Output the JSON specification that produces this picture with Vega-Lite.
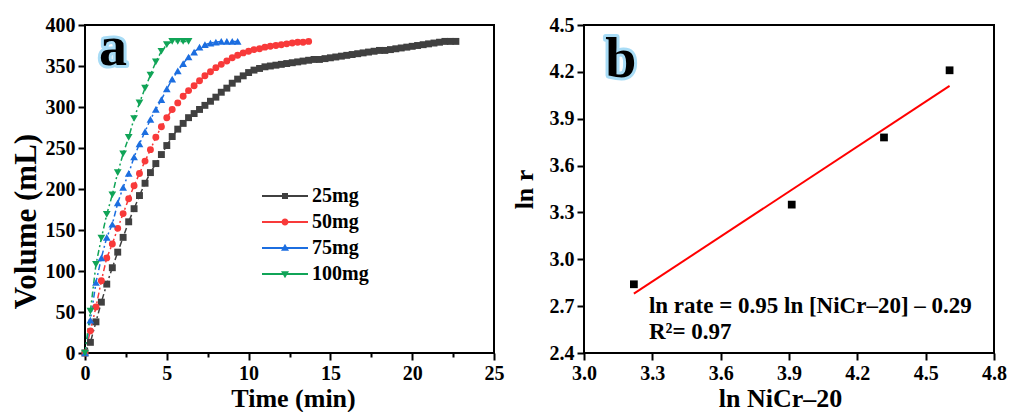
{
  "$schema": "https://vega.github.io/schema/vega-lite/v6.json",
  "background": "white",
  "padding": {"left": 9, "top": 14, "right": 2, "bottom": 4},
  "spacing": 5,
  "config": {
    "font": "Liberation Serif",
    "view": {"stroke": "black", "strokeWidth": 2},
    "axis": {
      "labelFont": "Liberation Serif", "labelFontWeight": "bold", "labelFontSize": 20, "labelColor": "black",
      "titleFont": "Liberation Serif", "titleFontWeight": "bold", "titleFontSize": 26, "titleColor": "black",
      "domain": false, "grid": false, "tickColor": "black", "tickWidth": 2, "labelPadding": 3, "labelOverlap": false, "labelFlush": false
    }
  },
  "datasets": {
    "a": [
      {"t":0,"v":0,"s":"25mg"},{"t":0.33,"v":13,"s":"25mg"},{"t":0.67,"v":38,"s":"25mg"},{"t":1.0,"v":62,"s":"25mg"},{"t":1.33,"v":84,"s":"25mg"},{"t":1.67,"v":104,"s":"25mg"},{"t":2.0,"v":123,"s":"25mg"},{"t":2.33,"v":141,"s":"25mg"},{"t":2.67,"v":160,"s":"25mg"},{"t":3.0,"v":176,"s":"25mg"},{"t":3.33,"v":192,"s":"25mg"},{"t":3.67,"v":207,"s":"25mg"},{"t":4.0,"v":220,"s":"25mg"},{"t":4.33,"v":231,"s":"25mg"},{"t":4.67,"v":242,"s":"25mg"},{"t":5.0,"v":253,"s":"25mg"},{"t":5.33,"v":264,"s":"25mg"},{"t":5.67,"v":273,"s":"25mg"},{"t":6.0,"v":280,"s":"25mg"},{"t":6.33,"v":287,"s":"25mg"},{"t":6.67,"v":292,"s":"25mg"},{"t":7.0,"v":297,"s":"25mg"},{"t":7.33,"v":302,"s":"25mg"},{"t":7.67,"v":307,"s":"25mg"},{"t":8.0,"v":312,"s":"25mg"},{"t":8.33,"v":318,"s":"25mg"},{"t":8.67,"v":323,"s":"25mg"},{"t":9.0,"v":329,"s":"25mg"},{"t":9.33,"v":334,"s":"25mg"},{"t":9.67,"v":338,"s":"25mg"},{"t":10.0,"v":342,"s":"25mg"},{"t":10.33,"v":345,"s":"25mg"},{"t":10.67,"v":347,"s":"25mg"},{"t":11.0,"v":349,"s":"25mg"},{"t":11.33,"v":350,"s":"25mg"},{"t":11.67,"v":351,"s":"25mg"},{"t":12.0,"v":352,"s":"25mg"},{"t":12.33,"v":353,"s":"25mg"},{"t":12.67,"v":354,"s":"25mg"},{"t":13.0,"v":355,"s":"25mg"},{"t":13.33,"v":356,"s":"25mg"},{"t":13.67,"v":357,"s":"25mg"},{"t":14.0,"v":358,"s":"25mg"},{"t":14.33,"v":358,"s":"25mg"},{"t":14.67,"v":359,"s":"25mg"},{"t":15.0,"v":360,"s":"25mg"},{"t":15.33,"v":361,"s":"25mg"},{"t":15.67,"v":362,"s":"25mg"},{"t":16.0,"v":363,"s":"25mg"},{"t":16.33,"v":364,"s":"25mg"},{"t":16.67,"v":365,"s":"25mg"},{"t":17.0,"v":366,"s":"25mg"},{"t":17.33,"v":367,"s":"25mg"},{"t":17.67,"v":368,"s":"25mg"},{"t":18.0,"v":369,"s":"25mg"},{"t":18.33,"v":369,"s":"25mg"},{"t":18.67,"v":370,"s":"25mg"},{"t":19.0,"v":371,"s":"25mg"},{"t":19.33,"v":372,"s":"25mg"},{"t":19.67,"v":373,"s":"25mg"},{"t":20.0,"v":374,"s":"25mg"},{"t":20.33,"v":375,"s":"25mg"},{"t":20.67,"v":376,"s":"25mg"},{"t":21.0,"v":377,"s":"25mg"},{"t":21.33,"v":378,"s":"25mg"},{"t":21.67,"v":379,"s":"25mg"},{"t":22.0,"v":380,"s":"25mg"},{"t":22.33,"v":380,"s":"25mg"},{"t":22.67,"v":380,"s":"25mg"},
      {"t":0,"v":0,"s":"50mg"},{"t":0.33,"v":27,"s":"50mg"},{"t":0.67,"v":56,"s":"50mg"},{"t":1.0,"v":88,"s":"50mg"},{"t":1.33,"v":116,"s":"50mg"},{"t":1.67,"v":133,"s":"50mg"},{"t":2.0,"v":152,"s":"50mg"},{"t":2.33,"v":170,"s":"50mg"},{"t":2.67,"v":188,"s":"50mg"},{"t":3.0,"v":204,"s":"50mg"},{"t":3.33,"v":219,"s":"50mg"},{"t":3.67,"v":234,"s":"50mg"},{"t":4.0,"v":248,"s":"50mg"},{"t":4.33,"v":263,"s":"50mg"},{"t":4.67,"v":276,"s":"50mg"},{"t":5.0,"v":287,"s":"50mg"},{"t":5.33,"v":297,"s":"50mg"},{"t":5.67,"v":305,"s":"50mg"},{"t":6.0,"v":313,"s":"50mg"},{"t":6.33,"v":320,"s":"50mg"},{"t":6.67,"v":326,"s":"50mg"},{"t":7.0,"v":332,"s":"50mg"},{"t":7.33,"v":338,"s":"50mg"},{"t":7.67,"v":343,"s":"50mg"},{"t":8.0,"v":348,"s":"50mg"},{"t":8.33,"v":352,"s":"50mg"},{"t":8.67,"v":356,"s":"50mg"},{"t":9.0,"v":360,"s":"50mg"},{"t":9.33,"v":363,"s":"50mg"},{"t":9.67,"v":366,"s":"50mg"},{"t":10.0,"v":368,"s":"50mg"},{"t":10.33,"v":370,"s":"50mg"},{"t":10.67,"v":371,"s":"50mg"},{"t":11.0,"v":373,"s":"50mg"},{"t":11.33,"v":374,"s":"50mg"},{"t":11.67,"v":375,"s":"50mg"},{"t":12.0,"v":376,"s":"50mg"},{"t":12.33,"v":377,"s":"50mg"},{"t":12.67,"v":378,"s":"50mg"},{"t":13.0,"v":379,"s":"50mg"},{"t":13.33,"v":379,"s":"50mg"},{"t":13.67,"v":380,"s":"50mg"},
      {"t":0,"v":0,"s":"75mg"},{"t":0.33,"v":40,"s":"75mg"},{"t":0.67,"v":86,"s":"75mg"},{"t":1.0,"v":116,"s":"75mg"},{"t":1.33,"v":141,"s":"75mg"},{"t":1.67,"v":157,"s":"75mg"},{"t":2.0,"v":183,"s":"75mg"},{"t":2.33,"v":202,"s":"75mg"},{"t":2.67,"v":219,"s":"75mg"},{"t":3.0,"v":239,"s":"75mg"},{"t":3.33,"v":255,"s":"75mg"},{"t":3.67,"v":270,"s":"75mg"},{"t":4.0,"v":285,"s":"75mg"},{"t":4.33,"v":297,"s":"75mg"},{"t":4.67,"v":309,"s":"75mg"},{"t":5.0,"v":322,"s":"75mg"},{"t":5.33,"v":334,"s":"75mg"},{"t":5.67,"v":344,"s":"75mg"},{"t":6.0,"v":353,"s":"75mg"},{"t":6.33,"v":361,"s":"75mg"},{"t":6.67,"v":367,"s":"75mg"},{"t":7.0,"v":373,"s":"75mg"},{"t":7.33,"v":376,"s":"75mg"},{"t":7.67,"v":378,"s":"75mg"},{"t":8.0,"v":379,"s":"75mg"},{"t":8.33,"v":380,"s":"75mg"},{"t":8.67,"v":380,"s":"75mg"},{"t":9.0,"v":380,"s":"75mg"},{"t":9.33,"v":380,"s":"75mg"},
      {"t":0,"v":0,"s":"100mg"},{"t":0.33,"v":51,"s":"100mg"},{"t":0.67,"v":108,"s":"100mg"},{"t":1.0,"v":140,"s":"100mg"},{"t":1.33,"v":169,"s":"100mg"},{"t":1.67,"v":193,"s":"100mg"},{"t":2.0,"v":220,"s":"100mg"},{"t":2.33,"v":243,"s":"100mg"},{"t":2.67,"v":263,"s":"100mg"},{"t":3.0,"v":286,"s":"100mg"},{"t":3.33,"v":305,"s":"100mg"},{"t":3.67,"v":323,"s":"100mg"},{"t":4.0,"v":339,"s":"100mg"},{"t":4.33,"v":355,"s":"100mg"},{"t":4.67,"v":368,"s":"100mg"},{"t":5.0,"v":376,"s":"100mg"},{"t":5.33,"v":380,"s":"100mg"},{"t":5.67,"v":380,"s":"100mg"},{"t":6.0,"v":380,"s":"100mg"},{"t":6.33,"v":380,"s":"100mg"}
    ],
    "bpts": [
      {"x":3.219,"y":2.84},{"x":3.912,"y":3.35},{"x":4.317,"y":3.78},{"x":4.605,"y":4.21}
    ],
    "bfit": [
      {"x":3.219,"y":2.78},{"x":4.605,"y":4.11}
    ]
  },
  "hconcat": [
    {
      "width": 409,
      "height": 328,
      "layer": [
        {
          "data": {"name": "a"},
          "mark": {"type": "line", "strokeWidth": 1.5, "strokeDash": [6, 3, 2, 3]},
          "encoding": {
            "x": {"field": "t", "type": "quantitative", "scale": {"domain": [0, 25], "nice": false},
              "axis": {"title": "Time (min)", "values": [0,2.5,5,7.5,10,12.5,15,17.5,20,22.5,25],
                "labelExpr": "datum.value % 5 == 0 ? format(datum.value, 'd') : ''",
                "tickSize": {"condition": {"test": "datum.value % 5 == 0", "value": 7}, "value": 4},
                "titlePadding": 2, "titleX": 208}},
            "y": {"field": "v", "type": "quantitative", "scale": {"domain": [0, 400], "nice": false},
              "axis": {"title": "Volume (mL)", "values": [0,25,50,75,100,125,150,175,200,225,250,275,300,325,350,375,400],
                "labelExpr": "datum.value % 50 == 0 ? format(datum.value, 'd') : ''",
                "tickSize": {"condition": {"test": "datum.value % 50 == 0", "value": 7}, "value": 4},
                "titleFontSize": 31, "titleY": 196, "titlePadding": 3}},
            "color": {"field": "s", "type": "nominal",
              "scale": {"domain": ["25mg", "50mg", "75mg", "100mg"], "range": ["#404040", "#f83a3a", "#1c6ee0", "#10a457"]},
              "legend": {
                "title": null, "orient": "none", "legendX": 190, "legendY": 161,
                "labelFont": "Liberation Serif", "labelFontWeight": "bold", "labelFontSize": 20, "labelColor": "black",
                "symbolSize": 400, "labelOffset": 17, "rowPadding": 6,
                "encode": {
                  "symbols": {
                    "update": {
                      "shape": {"signal": "datum.value == '25mg' ? 'M-2.3,-0.1H2.3V0.1H-2.3Z M-0.3,-0.3H0.3V0.3H-0.3Z' : datum.value == '50mg' ? 'M-2.3,-0.1H2.3V0.1H-2.3Z M0.35,0A0.35,0.35 0 1,1 -0.35,0A0.35,0.35 0 1,1 0.35,0Z' : datum.value == '75mg' ? 'M-2.3,-0.1H2.3V0.1H-2.3Z M0,-0.42L0.4,0.28H-0.4Z' : 'M-2.3,-0.1H2.3V0.1H-2.3Z M0,0.42L-0.4,-0.28H0.4Z'"},
                      "fill": {"signal": "datum.value == '25mg' ? '#404040' : datum.value == '50mg' ? '#f83a3a' : datum.value == '75mg' ? '#1c6ee0' : '#10a457'"},
                      "stroke": {"value": "transparent"},
                      "strokeWidth": {"value": 0},
                      "strokeDash": {"value": []},
                      "opacity": {"value": 1},
                      "size": {"value": 400}
                    }
                  }
                }
              }}
          }
        },
        {
          "data": {"name": "a"},
          "transform": [{"filter": "datum.s == '25mg'"}],
          "mark": {"type": "point", "shape": "square", "filled": true, "opacity": 1, "size": 48},
          "encoding": {
            "x": {"field": "t", "type": "quantitative"},
            "y": {"field": "v", "type": "quantitative"},
            "color": {"field": "s", "type": "nominal"}
          }
        },
        {
          "data": {"name": "a"},
          "transform": [{"filter": "datum.s == '50mg'"}],
          "mark": {"type": "point", "shape": "circle", "filled": true, "opacity": 1, "size": 48},
          "encoding": {
            "x": {"field": "t", "type": "quantitative"},
            "y": {"field": "v", "type": "quantitative"},
            "color": {"field": "s", "type": "nominal"}
          }
        },
        {
          "data": {"name": "a"},
          "transform": [{"filter": "datum.s == '75mg'"}],
          "mark": {"type": "point", "shape": "triangle-up", "filled": true, "opacity": 1, "size": 60},
          "encoding": {
            "x": {"field": "t", "type": "quantitative"},
            "y": {"field": "v", "type": "quantitative"},
            "color": {"field": "s", "type": "nominal"}
          }
        },
        {
          "data": {"name": "a"},
          "transform": [{"filter": "datum.s == '100mg'"}],
          "mark": {"type": "point", "shape": "triangle-down", "filled": true, "opacity": 1, "size": 60},
          "encoding": {
            "x": {"field": "t", "type": "quantitative"},
            "y": {"field": "v", "type": "quantitative"},
            "color": {"field": "s", "type": "nominal"}
          }
        },
        {
          "data": {"values": [{"t": 1.71, "v": 351, "lab": "a"}]},
          "mark": {"type": "text", "font": "Liberation Serif", "fontWeight": "bold", "fontSize": 56, "align": "center", "baseline": "alphabetic", "stroke": "#a8dcf6", "strokeWidth": 6, "strokeJoin": "round", "fill": "#a8dcf6"},
          "encoding": {
            "x": {"field": "t", "type": "quantitative"},
            "y": {"field": "v", "type": "quantitative"},
            "text": {"field": "lab"}
          }
        },
        {
          "data": {"values": [{"t": 1.71, "v": 351, "lab": "a"}]},
          "mark": {"type": "text", "font": "Liberation Serif", "fontWeight": "bold", "fontSize": 56, "align": "center", "baseline": "alphabetic", "fill": "black"},
          "encoding": {
            "x": {"field": "t", "type": "quantitative"},
            "y": {"field": "v", "type": "quantitative"},
            "text": {"field": "lab"}
          }
        }
      ]
    },
    {
      "width": 410,
      "height": 328,
      "layer": [
        {
          "data": {"name": "bfit"},
          "mark": {"type": "line", "color": "#ff0000", "strokeWidth": 2},
          "encoding": {
            "x": {"field": "x", "type": "quantitative", "scale": {"domain": [3.0, 4.8], "nice": false, "zero": false},
              "axis": {"title": "ln NiCr\u201320", "values": [3.0,3.15,3.3,3.45,3.6,3.75,3.9,4.05,4.2,4.35,4.5,4.65,4.8],
                "labelExpr": "abs(datum.value*10/3 - round(datum.value*10/3)) < 0.01 ? format(datum.value, '.1f') : ''",
                "tickSize": {"condition": {"test": "abs(datum.value*10/3 - round(datum.value*10/3)) < 0.01", "value": 7}, "value": 4},
                "titlePadding": 2, "titleX": 196}},
            "y": {"field": "y", "type": "quantitative", "scale": {"domain": [2.4, 4.5], "nice": false, "zero": false},
              "axis": {"title": "ln r", "values": [2.4,2.55,2.7,2.85,3.0,3.15,3.3,3.45,3.6,3.75,3.9,4.05,4.2,4.35,4.5],
                "labelExpr": "abs(datum.value*10/3 - round(datum.value*10/3)) < 0.01 ? format(datum.value, '.1f') : ''",
                "tickSize": {"condition": {"test": "abs(datum.value*10/3 - round(datum.value*10/3)) < 0.01", "value": 7}, "value": 4},
                "titlePadding": 12}}
          }
        },
        {
          "data": {"name": "bpts"},
          "mark": {"type": "point", "shape": "square", "filled": true, "color": "black", "opacity": 1, "size": 60},
          "encoding": {
            "x": {"field": "x", "type": "quantitative"},
            "y": {"field": "y", "type": "quantitative"}
          }
        },
        {
          "data": {"values": [{"x": 3.285, "y": 2.656, "txt": "ln rate = 0.95 ln [NiCr\u201320] \u2013 0.29"}, {"x": 3.285, "y": 2.49, "txt": "R\u00b2= 0.97"}]},
          "mark": {"type": "text", "font": "Liberation Serif", "fontWeight": "bold", "fontSize": 23, "align": "left", "baseline": "alphabetic", "fill": "black"},
          "encoding": {
            "x": {"field": "x", "type": "quantitative"},
            "y": {"field": "y", "type": "quantitative"},
            "text": {"field": "txt"}
          }
        },
        {
          "data": {"values": [{"x": 3.162, "y": 4.17, "lab": "b"}]},
          "mark": {"type": "text", "font": "Liberation Serif", "fontWeight": "bold", "fontSize": 56, "align": "center", "baseline": "alphabetic", "stroke": "#a8dcf6", "strokeWidth": 6, "strokeJoin": "round", "fill": "#a8dcf6"},
          "encoding": {
            "x": {"field": "x", "type": "quantitative"},
            "y": {"field": "y", "type": "quantitative"},
            "text": {"field": "lab"}
          }
        },
        {
          "data": {"values": [{"x": 3.162, "y": 4.17, "lab": "b"}]},
          "mark": {"type": "text", "font": "Liberation Serif", "fontWeight": "bold", "fontSize": 56, "align": "center", "baseline": "alphabetic", "fill": "black"},
          "encoding": {
            "x": {"field": "x", "type": "quantitative"},
            "y": {"field": "y", "type": "quantitative"},
            "text": {"field": "lab"}
          }
        }
      ]
    }
  ]
}
